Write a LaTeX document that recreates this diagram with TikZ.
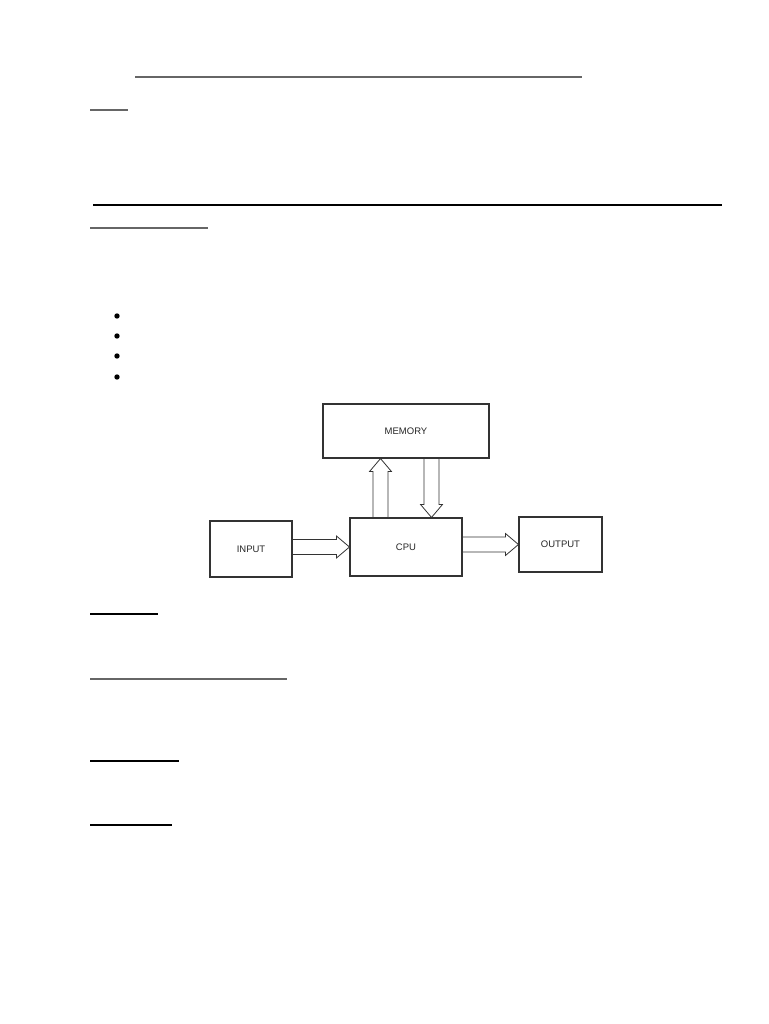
\documentclass[tikz,border=0pt]{standalone}
\usepackage{fontspec}
\setsansfont{Liberation Sans}
\usetikzlibrary{calc}

\tikzset{
  unit/.style={draw=black!80, line width=1.1pt, minimum width=#1, inner sep=0pt,
    font=\sffamily\fontsize{9.5}{10}\selectfont, text=black!85},
  rule/.style={line width=1.4pt, draw=black!60},
  % hollow block arrow from start to target
  hollow/.style={draw=black!80, line width=0.8pt, fill=white, to path={
    let \p1=(\tikztostart), \p2=(\tikztotarget), \p3=($(\p2)!13pt!(\p1)$) in
    ($(\p1)!7.5pt!90:(\p2)$) -- ($(\p3)!7.5pt!-90:(\p1)$) -- ($(\p3)!11pt!-90:(\p1)$)
    -- (\p2) -- ($(\p3)!11pt!90:(\p1)$) -- ($(\p3)!7.5pt!90:(\p1)$)
    -- ($(\p1)!7.5pt!-90:(\p2)$) -- cycle}}
}

\begin{document}
\begin{tikzpicture}[x=1pt,y=-1pt]
\useasboundingbox[fill=white] (0,0) rectangle (768,1024);

% underlines of the page
\draw[rule] (135,77) -- (582,77);
\draw[rule] (90,110) -- (128,110);
\draw[line width=2.6pt] (93,205) -- (722,205);
\draw[rule] (90,228) -- (208,228);
\draw[rule,draw=black] (90,614) -- (158,614);
\draw[rule] (90,679) -- (287,679);
\draw[rule,draw=black] (90,761) -- (179,761);
\draw[rule,draw=black] (90,825) -- (172,825);

% bullets
\foreach \y in {316,336,356,377}
  \fill (117,\y) circle (2.7);

% block diagram
\node[unit=166pt, minimum height=54pt] (memory) at (406,431) {MEMORY};
\node[unit=82pt, minimum height=56pt] (input) at (251,549) {INPUT};
\node[unit=112pt, minimum height=58pt] (cpu) at (406,547) {CPU};
\node[unit=83pt, minimum height=55pt] (output) at (560.5,544.5) {OUTPUT};

\draw[hollow] ($(cpu.north)+(-25.5,0)$) to ($(memory.south)+(-25.5,0)$);
\draw[hollow] ($(memory.south)+(25.5,0)$) to ($(cpu.north)+(25.5,0)$);
\draw[hollow] (input.east |- cpu.west) to (cpu.west);
\draw[hollow] (cpu.east |- output.west) to (output.west);
\end{tikzpicture}
\end{document}
